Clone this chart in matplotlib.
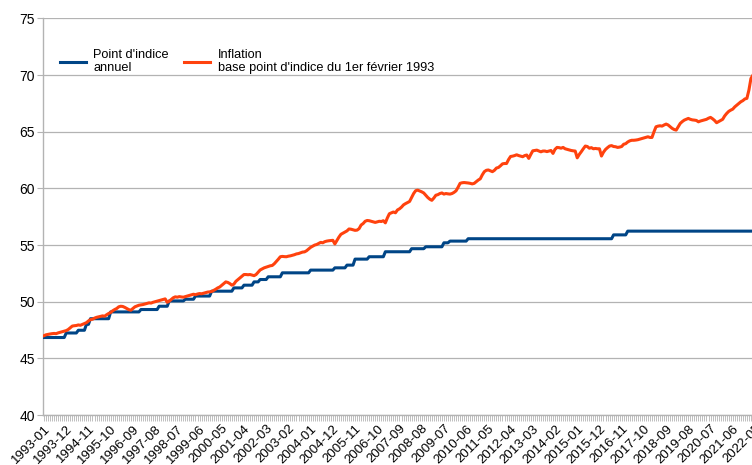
import numpy as np
import pandas as pd
import matplotlib
matplotlib.use("Agg")
import matplotlib.pyplot as plt

# ---- categories (monthly) ----
months = pd.period_range("1993-01", "2022-06", freq="M").strftime("%Y-%m").tolist()

# ---- "Point d'indice annuel" : step changes (month of change, new value) ----
point_step_months = ["1993-01", "1993-12", "1994-06", "1994-10", "1994-12", "1995-10",
                     "1997-01", "1997-10", "1998-03", "1998-11", "1999-04", "1999-12",
                     "2000-11", "2001-04", "2001-09", "2001-12", "2002-04", "2002-11",
                     "2004-01", "2005-01", "2005-07", "2005-11", "2006-06", "2007-02",
                     "2008-03", "2008-10", "2009-07", "2009-10", "2010-07", "2016-07",
                     "2017-02"]
point_step_values = [46.84, 47.24, 47.48, 48.00, 48.50, 49.10,
                     49.31, 49.60, 50.07, 50.22, 50.50, 50.93,
                     51.22, 51.46, 51.75, 51.96, 52.20, 52.55,
                     52.79, 52.99, 53.23, 53.76, 53.97, 54.41,
                     54.68, 54.85, 55.20, 55.35, 55.56, 55.90,
                     56.23]

# ---- "Inflation, base point d'indice du 1er fevrier 1993" : monthly values ----
inflation = [
    47.00, 47.08, 47.12, 47.15, 47.18, 47.20, 47.18, 47.25, 47.30, 47.35, 47.40, 47.45,  # 1993
    47.55, 47.70, 47.85, 47.88, 47.90, 47.95, 47.92, 48.00, 48.07, 48.15, 48.30, 48.42,  # 1994
    48.45, 48.55, 48.62, 48.66, 48.70, 48.75, 48.72, 48.85, 48.96, 49.05, 49.20, 49.31,  # 1995
    49.40, 49.55, 49.60, 49.58, 49.50, 49.40, 49.30, 49.25, 49.40, 49.55, 49.62, 49.69,  # 1996
    49.72, 49.75, 49.80, 49.85, 49.90, 49.88, 49.95, 50.00, 50.05, 50.10, 50.15, 50.20,  # 1997
    50.25, 49.95, 50.05, 50.20, 50.35, 50.43, 50.40, 50.45, 50.42, 50.40, 50.45, 50.50,  # 1998
    50.55, 50.60, 50.66, 50.62, 50.68, 50.72, 50.70, 50.75, 50.81, 50.85, 50.87, 50.90,  # 1999
    51.00, 51.10, 51.22, 51.30, 51.45, 51.60, 51.75, 51.70, 51.60, 51.46, 51.55, 51.80,  # 2000
    51.95, 52.10, 52.25, 52.40, 52.40, 52.38, 52.40, 52.35, 52.30, 52.40, 52.60, 52.80,  # 2001
    52.90, 52.99, 53.05, 53.10, 53.17, 53.20, 53.35, 53.55, 53.75, 53.97, 54.00, 53.98,  # 2002
    53.97, 54.02, 54.05, 54.10, 54.15, 54.22, 54.25, 54.32, 54.38, 54.40, 54.50, 54.65,  # 2003
    54.80, 54.90, 55.00, 55.05, 55.15, 55.24, 55.20, 55.30, 55.35, 55.38, 55.40, 55.42,  # 2004
    55.10, 55.40, 55.70, 55.95, 56.05, 56.15, 56.25, 56.42, 56.40, 56.35, 56.30, 56.32,  # 2005
    56.45, 56.77, 56.90, 57.10, 57.17, 57.15, 57.10, 57.05, 57.00, 57.05, 57.10, 57.08,  # 2006
    57.15, 56.96, 57.40, 57.77, 57.85, 57.92, 57.85, 58.10, 58.20, 58.35, 58.55, 58.66,  # 2007
    58.75, 58.85, 59.20, 59.55, 59.80, 59.85, 59.78, 59.70, 59.60, 59.40, 59.20, 59.05,  # 2008
    58.95, 59.15, 59.40, 59.45, 59.55, 59.60, 59.50, 59.55, 59.52, 59.50, 59.55, 59.65,  # 2009
    59.79, 60.10, 60.45, 60.50, 60.52, 60.50, 60.48, 60.45, 60.40, 60.45, 60.60, 60.74,  # 2010
    60.85, 61.20, 61.48, 61.60, 61.63, 61.55, 61.48, 61.60, 61.80, 61.85, 62.00, 62.17,  # 2011
    62.20, 62.20, 62.55, 62.82, 62.85, 62.90, 62.97, 62.90, 62.85, 62.80, 62.90, 62.95,  # 2012
    62.65, 63.00, 63.32, 63.35, 63.38, 63.30, 63.23, 63.30, 63.30, 63.25, 63.30, 63.35,  # 2013
    63.09, 63.45, 63.62, 63.60, 63.55, 63.62, 63.50, 63.45, 63.40, 63.35, 63.32, 63.30,  # 2014
    62.70, 63.00, 63.24, 63.50, 63.74, 63.70, 63.55, 63.60, 63.50, 63.53, 63.50, 63.50,  # 2015
    62.86, 63.20, 63.44, 63.60, 63.74, 63.78, 63.70, 63.68, 63.62, 63.65, 63.70, 63.90,  # 2016
    63.95, 64.10, 64.20, 64.25, 64.25, 64.27, 64.30, 64.35, 64.41, 64.45, 64.50, 64.56,  # 2017
    64.50, 64.50, 65.00, 65.44, 65.50, 65.53, 65.50, 65.60, 65.68, 65.60, 65.45, 65.30,  # 2018
    65.20, 65.15, 65.45, 65.74, 65.90, 66.03, 66.10, 66.18, 66.10, 66.05, 66.03, 66.00,  # 2019
    65.88, 65.95, 66.00, 66.05, 66.10, 66.20, 66.27, 66.15, 66.00, 65.80, 65.90, 66.00,  # 2020
    66.10, 66.40, 66.62, 66.80, 66.91, 67.00, 67.20, 67.35, 67.50, 67.65, 67.75, 67.90,  # 2021
    67.95, 68.68, 69.70, 70.00, 70.50, 71.00,                                            # 2022
]

series_labels = ["Point d'indice\nannuel",
                 "Inflation\nbase point d'indice du 1er février 1993"]
series_colors = ["#004586", "#ff420e"]
y_ticks = [40, 45, 50, 55, 60, 65, 70, 75]
label_every = 11

point = pd.Series(point_step_values, index=point_step_months).reindex(months).ffill()

plt.rcParams["font.family"] = ["Liberation Sans", "DejaVu Sans"]
grey = "#b3b3b3"

W, H = 752, 465
fig = plt.figure(figsize=(W / 100, H / 100), dpi=100)
left, right, bottom, top = 43, 758, 415, 18.5
ax = fig.add_axes([left / W, (H - bottom) / H, (right - left) / W, (bottom - top) / H])

x = np.arange(len(months))
ax.plot(x, point.values, color=series_colors[0], lw=2.2, label=series_labels[0], zorder=3)
ax.plot(x, inflation, color=series_colors[1], lw=2.2, label=series_labels[1], zorder=4)

ax.set_xlim(-0.5, len(months) - 0.5)
ax.set_ylim(y_ticks[0], y_ticks[-1])
ax.set_yticks(y_ticks)
ax.yaxis.grid(True, color=grey, lw=0.9)
ax.set_axisbelow(True)

ax.set_xticks(x[::label_every])
ax.set_xticklabels(months[::label_every], rotation=45, ha="right", va="top",
                   rotation_mode="anchor", fontsize=9.5)
ax.set_xticks(x, minor=True)
ax.tick_params(axis="x", which="both", length=4, width=0.6, color=grey, pad=1.5)
ax.tick_params(axis="y", length=4.5, width=0.8, color=grey, pad=1.5, labelsize=10)

for s in ["top", "right"]:
    ax.spines[s].set_visible(False)
for s in ["left", "bottom"]:
    ax.spines[s].set_color(grey)
    ax.spines[s].set_linewidth(1.0)

leg = ax.legend(loc="upper left", bbox_to_anchor=(0.024, 0.922), ncol=2, frameon=False,
                fontsize=9.2, handlelength=2.0, handletextpad=0.6, columnspacing=1.2,
                borderpad=0, borderaxespad=0)
for t in leg.get_texts():
    t.set_linespacing(1.1)

fig.savefig("out.png", dpi=100)
